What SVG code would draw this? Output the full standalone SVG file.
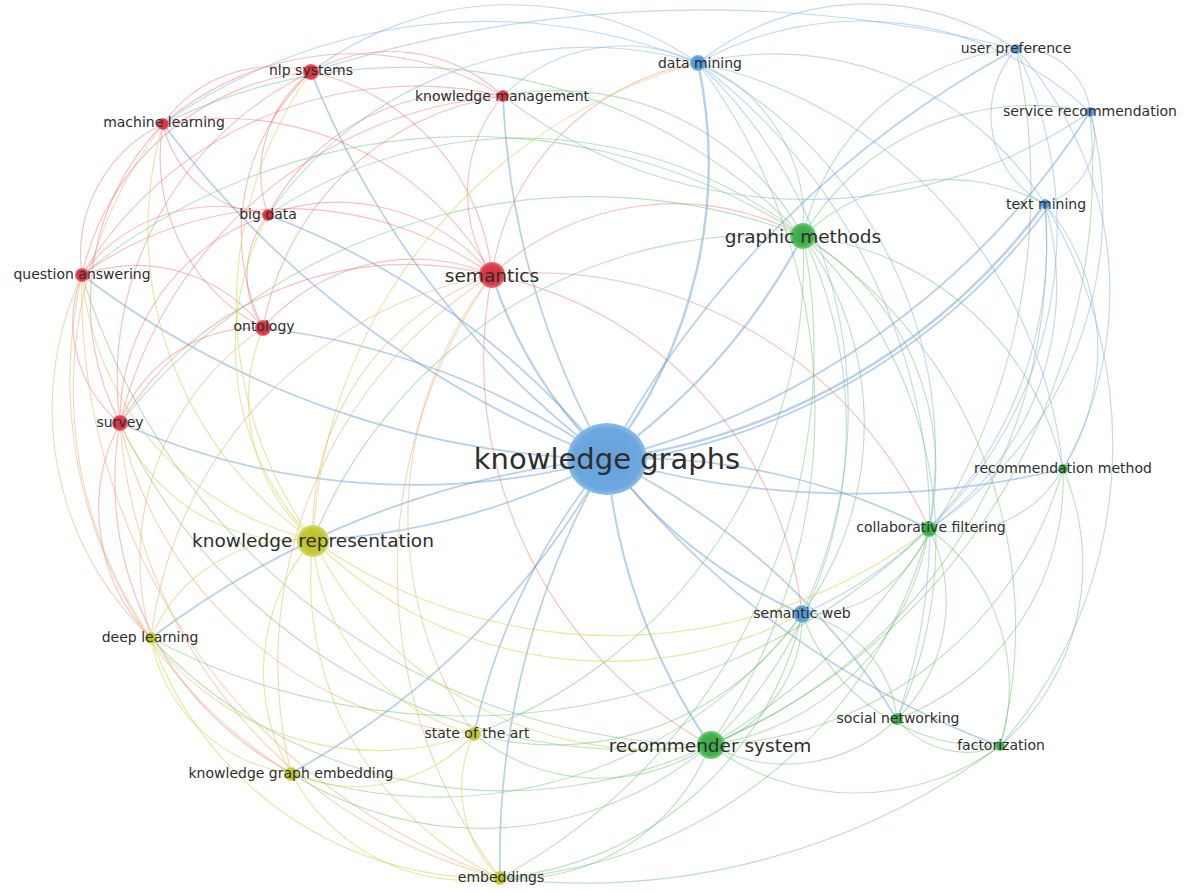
<svg xmlns="http://www.w3.org/2000/svg" width="1189" height="891" viewBox="0 0 1189 891">
  <style>
    .lk { fill: none; stroke-width: 1.15; stroke-linecap: round; }
    .r { stroke: #e8505a; stroke-opacity: 0.36; }
    .o { stroke: #e8a866; stroke-opacity: 0.45; }
    .b { stroke: #7fb0e0; stroke-opacity: 0.48; }
    .g { stroke: #6fbf74; stroke-opacity: 0.45; }
    .y { stroke: #d2d65a; stroke-opacity: 0.55; }
    .hub { stroke: #6fa3d8; stroke-opacity: 0.5; stroke-width: 1.7; }
    text { font-family: "DejaVu Sans", Verdana, sans-serif; fill: #2e2e2e; text-anchor: middle; dominant-baseline: central; }
    .s { font-size: 14px; }
    .m { font-size: 18.5px; }
    .l { font-size: 29px; }
  </style>
  <defs>
    <radialGradient id="gr"><stop offset="0" stop-color="#d22f3b"/><stop offset="0.75" stop-color="#db3c48"/><stop offset="1" stop-color="#e8707a"/></radialGradient>
    <radialGradient id="gb"><stop offset="0" stop-color="#4f91d3"/><stop offset="0.75" stop-color="#5c9dd9"/><stop offset="1" stop-color="#8bbbe6"/></radialGradient>
    <radialGradient id="gk"><stop offset="0" stop-color="#679fd8"/><stop offset="0.85" stop-color="#6ca8df"/><stop offset="1" stop-color="#8fbde8"/></radialGradient>
    <radialGradient id="gg"><stop offset="0" stop-color="#36a840"/><stop offset="0.75" stop-color="#45b34f"/><stop offset="1" stop-color="#7ccc83"/></radialGradient>
    <radialGradient id="gy"><stop offset="0" stop-color="#b9be2a"/><stop offset="0.75" stop-color="#c3c834"/><stop offset="1" stop-color="#d8db70"/></radialGradient>
  </defs>
  <rect width="1189" height="891" fill="#ffffff"/>

  <g id="connectors">
    <!-- links of the central hub -->
    <g class="lk hub">
      <path d="M607 459A450 450 0 0 1 492 275" stroke-width="2.2"/>
      <path d="M607 459A650 650 0 0 0 803 236" stroke-width="2.2"/>
      <path d="M607 459A700 700 0 0 1 313 540"/>
      <path d="M607 459A600 600 0 0 0 710 745" stroke-width="2"/>
      <path d="M607 459A480 480 0 0 0 698 63" stroke-width="2.4"/>
      <path d="M607 459A1000 1000 0 0 1 1016 49"/>
      <path d="M607 459A800 800 0 0 0 1090 112" stroke-width="1.8"/>
      <path d="M607 459A640 640 0 0 0 1045 204" stroke-width="2.4"/>
      <path d="M611 463A650 650 0 0 0 1048 208" stroke-width="1.8"/>
      <path d="M607 459A900 900 0 0 1 311 72"/>
      <path d="M607 459A800 800 0 0 1 503 96"/>
      <path d="M607 459A1000 1000 0 0 1 163 124"/>
      <path d="M607 459A800 800 0 0 0 268 215"/>
      <path d="M607 459A900 900 0 0 1 82 275"/>
      <path d="M607 459A750 750 0 0 0 263 328"/>
      <path d="M607 459A730 730 0 0 1 120 423"/>
      <path d="M607 459A900 900 0 0 0 1063 469"/>
      <path d="M607 459A650 650 0 0 1 929 529"/>
      <path d="M607 459A500 500 0 0 0 802 614" stroke-width="2"/>
      <path d="M607 459A900 900 0 0 0 151 638"/>
      <path d="M607 459A700 700 0 0 1 897 719"/>
      <path d="M607 459A900 900 0 0 0 1000 746"/>
      <path d="M607 459A650 650 0 0 0 474 734"/>
      <path d="M607 459A800 800 0 0 1 291 773"/>
      <path d="M607 459A800 800 0 0 0 500 878"/>
    </g>
    <!-- red cluster links -->
    <g class="lk r">
      <path d="M311 72A230 230 0 0 1 492 275"/>
      <path d="M492 275A150 150 0 0 1 503 96"/>
      <path d="M163 124A310 310 0 0 1 492 275"/>
      <path d="M268 215A200 200 0 0 1 492 275"/>
      <path d="M82 275A350 350 0 0 1 492 275"/>
      <path d="M263 328A200 200 0 0 1 492 275"/>
      <path d="M120 423A340 340 0 0 1 492 275"/>
      <path d="M492 275A270 270 0 0 1 803 236"/>
      <path d="M492 275A250 250 0 0 1 698 63"/>
      <path d="M710 745A440 440 0 0 1 492 275"/>
      <path d="M492 275A390 390 0 0 1 802 614"/>
      <path d="M492 275A430 430 0 0 1 929 529"/>
      <path d="M311 72A165 165 0 0 1 503 96"/>
      <path d="M163 124A135 135 0 0 1 311 72"/>
      <path d="M268 215A127 127 0 0 1 311 72"/>
      <path d="M82 275A260 260 0 0 1 311 72"/>
      <path d="M263 328A220 220 0 0 1 311 72"/>
      <path d="M120 423A340 340 0 0 1 311 72"/>
      <path d="M163 124A290 290 0 0 1 503 96"/>
      <path d="M268 215A225 225 0 0 1 503 96"/>
      <path d="M263 328A285 285 0 0 1 503 96"/>
      <path d="M268 215A118 118 0 0 1 163 124"/>
      <path d="M82 275A145 145 0 0 1 163 124"/>
      <path d="M263 328A193 193 0 0 1 163 124"/>
      <path d="M120 423A257 257 0 0 1 163 124"/>
      <path d="M82 275A166 166 0 0 1 268 215"/>
      <path d="M263 328A96 96 0 0 1 268 215"/>
      <path d="M120 423A217 217 0 0 1 268 215"/>
      <path d="M82 275A160 160 0 0 1 263 328"/>
      <path d="M120 423A130 130 0 0 1 82 275"/>
      <path d="M120 423A146 146 0 0 1 263 328"/>
      <path d="M120 423A430 430 0 0 1 503 96"/>
      <path d="M82 275A390 390 0 0 1 503 96"/>
      <path d="M151 638A185 185 0 0 1 120 423"/>
      <path d="M291 773A330 330 0 0 1 120 423"/>
    </g>
    <!-- links between the red and yellow clusters -->
    <g class="lk o">
      <path d="M313 540A270 270 0 0 1 492 275"/>
      <path d="M151 638A420 420 0 0 1 492 275"/>
      <path d="M474 734A390 390 0 0 1 492 275"/>
      <path d="M291 773A460 460 0 0 1 492 275"/>
      <path d="M500 878A510 510 0 0 1 492 275"/>
      <path d="M151 638A437 437 0 0 1 163 124"/>
      <path d="M151 638A315 315 0 0 1 82 275"/>
      <path d="M291 773A460 460 0 0 1 82 275"/>
      <path d="M500 878A620 620 0 0 1 82 275"/>
      <path d="M151 638A280 280 0 0 1 263 328"/>
      <path d="M500 878A505 505 0 0 1 120 423"/>
      <path d="M474 734A400 400 0 0 1 120 423"/>
    </g>
    <!-- green cluster links -->
    <g class="lk g">
      <path d="M698 63A170 170 0 0 1 803 236"/>
      <path d="M803 236A240 240 0 0 1 1016 49"/>
      <path d="M803 236A265 265 0 0 1 1090 112"/>
      <path d="M803 236A210 210 0 0 1 1045 204"/>
      <path d="M803 236A440 440 0 0 1 710 745"/>
      <path d="M803 236A270 270 0 0 1 929 529"/>
      <path d="M803 236A300 300 0 0 1 1063 469"/>
      <path d="M803 236A320 320 0 0 1 802 614"/>
      <path d="M803 236A420 420 0 0 1 897 719"/>
      <path d="M803 236A465 465 0 0 1 1000 746"/>
      <path d="M503 96A280 280 0 0 1 803 236"/>
      <path d="M163 124A550 550 0 0 1 803 236"/>
      <path d="M268 215A455 455 0 0 1 803 236"/>
      <path d="M82 275A610 610 0 0 1 803 236"/>
      <path d="M313 540A490 490 0 0 1 803 236"/>
      <path d="M803 236A505 505 0 0 1 474 734"/>
      <path d="M803 236A600 600 0 0 1 500 878"/>
      <path d="M120 423A600 600 0 0 1 803 236"/>
      <path d="M929 529A260 260 0 0 1 710 745"/>
      <path d="M1063 469A380 380 0 0 1 710 745"/>
      <path d="M897 719A160 160 0 0 1 710 745"/>
      <path d="M1000 746A245 245 0 0 1 710 745"/>
      <path d="M802 614A135 135 0 0 1 710 745"/>
      <path d="M698 63A580 580 0 0 1 710 745"/>
      <path d="M1016 49A645 645 0 0 1 710 745"/>
      <path d="M1090 112A625 625 0 0 1 710 745"/>
      <path d="M1045 204A540 540 0 0 1 710 745"/>
      <path d="M710 745A200 200 0 0 1 474 734"/>
      <path d="M710 745A210 210 0 0 1 500 878"/>
      <path d="M710 745A355 355 0 0 1 291 773"/>
      <path d="M710 745A485 485 0 0 1 151 638"/>
      <path d="M710 745A570 570 0 0 1 120 423"/>
      <path d="M710 745A665 665 0 0 1 82 275"/>
      <path d="M1063 469A125 125 0 0 1 929 529"/>
      <path d="M929 529A164 164 0 0 1 897 719"/>
      <path d="M929 529A194 194 0 0 1 1000 746"/>
      <path d="M929 529A130 130 0 0 1 802 614"/>
      <path d="M1000 746A90 90 0 0 1 897 719"/>
      <path d="M802 614A120 120 0 0 1 897 719"/>
      <path d="M1063 469A255 255 0 0 1 897 719"/>
      <path d="M1063 469A240 240 0 0 1 1000 746"/>
      <path d="M1000 746A700 700 0 0 1 500 878"/>
      <path d="M1000 746A200 200 0 0 1 802 614"/>
      <path d="M929 529A470 470 0 0 1 500 878"/>
      <path d="M802 614A300 300 0 0 1 474 734"/>
      <path d="M929 529A670 670 0 0 1 151 638"/>
      <path d="M802 614A455 455 0 0 1 291 773"/>
      <path d="M802 614A340 340 0 0 1 500 878"/>
    </g>
    <!-- yellow cluster links -->
    <g class="lk y">
      <path d="M313 540A375 375 0 0 1 163 124"/>
      <path d="M313 540A280 280 0 0 1 268 215"/>
      <path d="M313 540A300 300 0 0 1 82 275"/>
      <path d="M313 540A185 185 0 0 1 263 328"/>
      <path d="M313 540A190 190 0 0 1 120 423"/>
      <path d="M151 638A160 160 0 0 1 313 540"/>
      <path d="M291 773A200 200 0 0 1 313 540"/>
      <path d="M474 734A215 215 0 0 1 313 540"/>
      <path d="M500 878A330 330 0 0 1 313 540"/>
      <path d="M313 540A400 400 0 0 1 311 72"/>
      <path d="M710 745A380 380 0 0 1 313 540"/>
      <path d="M802 614A420 420 0 0 1 313 540"/>
      <path d="M929 529A520 520 0 0 1 313 540"/>
      <path d="M313 540A520 520 0 0 1 698 63"/>
      <path d="M291 773A165 165 0 0 1 151 638"/>
      <path d="M474 734A285 285 0 0 1 151 638"/>
      <path d="M500 878A360 360 0 0 1 151 638"/>
      <path d="M474 734A160 160 0 0 1 291 773"/>
      <path d="M500 878A200 200 0 0 1 291 773"/>
      <path d="M500 878A125 125 0 0 1 474 734"/>
    </g>
    <!-- blue cluster links -->
    <g class="lk b">
      <path d="M698 63A270 270 0 0 1 1016 49"/>
      <path d="M698 63A335 335 0 0 1 1090 112"/>
      <path d="M698 63A320 320 0 0 1 1045 204"/>
      <path d="M503 96A170 170 0 0 1 698 63"/>
      <path d="M311 72A330 330 0 0 1 698 63"/>
      <path d="M163 124A560 560 0 0 1 698 63"/>
      <path d="M268 215A390 390 0 0 1 698 63"/>
      <path d="M698 63A475 475 0 0 1 802 614"/>
      <path d="M698 63A440 440 0 0 1 929 529"/>
      <path d="M698 63A580 580 0 0 1 897 719"/>
      <path d="M698 63A465 465 0 0 1 1063 469"/>
      <path d="M1016 49A70 70 0 0 1 1090 112"/>
      <path d="M1016 49A100 100 0 0 0 1045 204"/>
      <path d="M1016 49A415 415 0 0 1 929 529"/>
      <path d="M1016 49A360 360 0 0 1 1063 469"/>
      <path d="M1090 112A70 70 0 0 1 1045 204"/>
      <path d="M1090 112A380 380 0 0 1 929 529"/>
      <path d="M1045 204A405 405 0 0 1 802 614"/>
      <path d="M1045 204A295 295 0 0 1 929 529"/>
      <path d="M1045 204A460 460 0 0 1 1000 746"/>
      <path d="M1045 204A225 225 0 0 1 1063 469"/>
      <path d="M503 96A500 500 0 0 0 1090 112"/>
      <path d="M311 72A1270 1270 0 0 1 1016 49"/>
    </g>
  </g>

  <!-- keyword nodes -->
  <g id="n-knowledge-graphs"><ellipse cx="607" cy="459" rx="40" ry="36" fill="url(#gk)"/><text class="l" x="607" y="459">knowledge graphs</text></g>
  <g id="n-semantics"><circle cx="492" cy="275" r="13" fill="url(#gr)"/><text class="m" x="492" y="275">semantics</text></g>
  <g id="n-graphic-methods"><circle cx="803" cy="236" r="13" fill="url(#gg)"/><text class="m" x="803" y="236">graphic methods</text></g>
  <g id="n-knowledge-representation"><circle cx="313" cy="541" r="16" fill="url(#gy)"/><text class="m" x="313" y="540">knowledge representation</text></g>
  <g id="n-recommender-system"><circle cx="711" cy="745" r="14" fill="url(#gg)"/><text class="m" x="710" y="745">recommender system</text></g>
  <g id="n-data-mining"><circle cx="698" cy="63" r="8" fill="url(#gb)"/><text class="s" x="700" y="63">data mining</text></g>
  <g id="n-user-preference"><circle cx="1016" cy="49" r="5" fill="url(#gb)"/><text class="s" x="1016" y="48">user preference</text></g>
  <g id="n-service-recommendation"><circle cx="1090" cy="112" r="5" fill="url(#gb)"/><text class="s" x="1090" y="111">service recommendation</text></g>
  <g id="n-text-mining"><circle cx="1045" cy="204" r="5" fill="url(#gb)"/><text class="s" x="1046" y="204">text mining</text></g>
  <g id="n-nlp-systems"><circle cx="311" cy="72" r="8" fill="url(#gr)"/><text class="s" x="311" y="70">nlp systems</text></g>
  <g id="n-knowledge-management"><circle cx="503" cy="96" r="6" fill="url(#gr)"/><text class="s" x="502" y="96">knowledge management</text></g>
  <g id="n-machine-learning"><circle cx="163" cy="124" r="6" fill="url(#gr)"/><text class="s" x="164" y="122">machine learning</text></g>
  <g id="n-big-data"><circle cx="268" cy="215" r="6" fill="url(#gr)"/><text class="s" x="268" y="214">big data</text></g>
  <g id="n-question-answering"><circle cx="82" cy="275" r="7" fill="url(#gr)"/><text class="s" x="82" y="274">question answering</text></g>
  <g id="n-ontology"><circle cx="263" cy="328" r="8" fill="url(#gr)"/><text class="s" x="264" y="326">ontology</text></g>
  <g id="n-survey"><circle cx="120" cy="423" r="8" fill="url(#gr)"/><text class="s" x="120" y="422">survey</text></g>
  <g id="n-recommendation-method"><circle cx="1063" cy="469" r="5" fill="url(#gg)"/><text class="s" x="1063" y="468">recommendation method</text></g>
  <g id="n-collaborative-filtering"><circle cx="929" cy="529" r="8" fill="url(#gg)"/><text class="s" x="931" y="527">collaborative filtering</text></g>
  <g id="n-semantic-web"><circle cx="802" cy="614" r="9" fill="url(#gb)"/><text class="s" x="802" y="613">semantic web</text></g>
  <g id="n-deep-learning"><circle cx="151" cy="638" r="6" fill="url(#gy)"/><text class="s" x="150" y="637">deep learning</text></g>
  <g id="n-social-networking"><circle cx="897" cy="719" r="6" fill="url(#gg)"/><text class="s" x="898" y="718">social networking</text></g>
  <g id="n-factorization"><circle cx="1000" cy="746" r="5" fill="url(#gg)"/><text class="s" x="1001" y="745">factorization</text></g>
  <g id="n-state-of-the-art"><circle cx="474" cy="734" r="7" fill="url(#gy)"/><text class="s" x="477" y="733">state of the art</text></g>
  <g id="n-knowledge-graph-embedding"><circle cx="291" cy="774" r="7" fill="url(#gy)"/><text class="s" x="291" y="773">knowledge graph embedding</text></g>
  <g id="n-embeddings"><circle cx="500" cy="878" r="7" fill="url(#gy)"/><text class="s" x="501" y="877">embeddings</text></g>
</svg>
